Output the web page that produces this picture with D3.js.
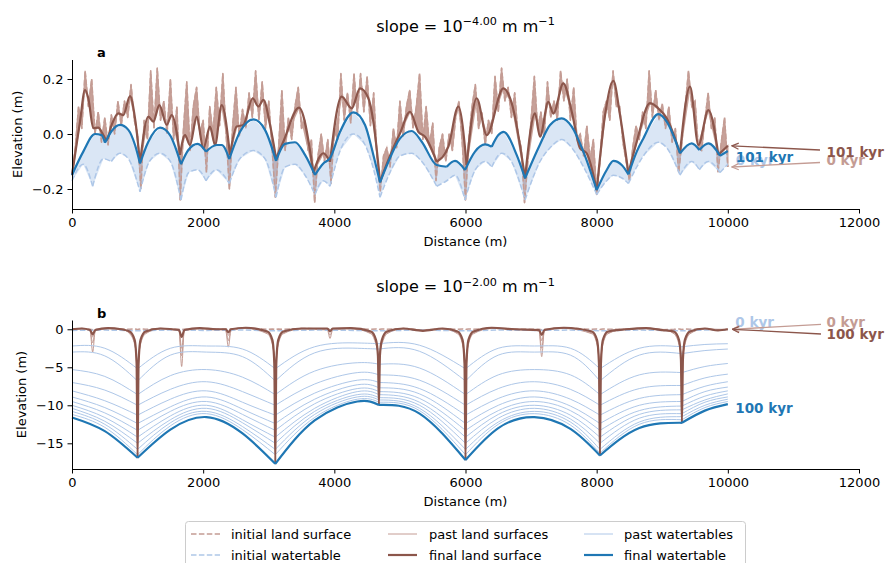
<!DOCTYPE html>
<html>
<head>
<meta charset="utf-8">
<script src="https://cdn.jsdelivr.net/npm/d3@7"></script>
<style>
  body { margin: 0; background: #fff; }
  svg text { font-family: "DejaVu Sans", sans-serif; }
</style>
</head>
<body>
<script>
// ------------------------------------------------------------------
// data
// ------------------------------------------------------------------
var xTickVals = [0, 2000, 4000, 6000, 8000, 10000, 12000];
var yTicksA = [-0.2, 0.0, 0.2];
var yTicksB = [-15, -10, -5, 0];
var slopeExp = ["\u22124.00", "\u22122.00"];
var panelNames = ["a", "b"];
var endLabelsA = ["101 kyr", "0 kyr"];
var endLabelsB = ["100 kyr", "0 kyr"];
var legendLabels = ["initial land surface", "initial watertable", "past land surfaces",
                    "final land surface", "past watertables", "final watertable"];

// panel a  (slope 1e-4)
var landA_x = [0, 122, 198, 249, 325, 401, 478, 529, 605, 706,
               783, 884, 961, 1037, 1164, 1240, 1332, 1444, 1520, 1647,
               1723, 1799, 1901, 2003, 2104, 2181, 2282, 2409, 2511, 2613,
               2755, 2841, 2918, 3020, 3111, 3222, 3461, 3680, 3832, 3934,
               4112, 4265, 4392, 4519, 4595, 4697, 4875, 5002, 5154, 5281,
               5383, 5561, 5739, 5891, 6018, 6171, 6323, 6577, 6705, 6908,
               7060, 7136, 7263, 7340, 7492, 7620, 7747, 7848, 8001, 8128,
               8255, 8356, 8484, 8611, 8814, 8966, 9068, 9271, 9424, 9551,
               9703, 9856, 10000];
var landA_final = [-0.149, 0.045, 0.160, 0.130, 0.021, 0.023, -0.004, -0.022, 0.033, 0.075,
                   0.069, 0.138, 0.057, -0.105, 0.063, 0.045, 0.105, 0.033, 0.069, -0.076,
                   -0.004, -0.040, 0.063, -0.052, 0.027, -0.040, 0.105, -0.076, 0.027, 0.033,
                   0.130, 0.100, 0.124, 0.033, -0.088, -0.028, 0.096, -0.140, -0.070, -0.101,
                   0.136, 0.093, 0.166, 0.130, 0.045, -0.173, -0.064, 0.003, 0.081, 0.008,
                   -0.010, -0.101, -0.046, 0.100, -0.113, 0.130, -0.004, 0.166, 0.112, -0.161,
                   0.075, -0.010, 0.117, 0.075, 0.184, 0.081, -0.052, -0.070, -0.204, 0.069,
                   0.193, 0.069, -0.143, -0.028, 0.112, 0.087, 0.057, -0.070, 0.172, -0.040,
                   0.087, -0.076, -0.043];
var landA_initStep = 50;   // metres between samples of the initial surface
var landA_init = [
  -0.15, -0.05, 0.10, 0.02, 0.23, 0.10, 0.20, 0.00, 0.08, -0.03,
  0.06, -0.04, 0.07, 0.00, 0.12, 0.03, 0.12, 0.06, 0.18, 0.05,
  0.00, -0.20, 0.05, -0.02, 0.23, 0.02, 0.24, 0.05, 0.12, 0.00,
  0.20, -0.02, 0.10, -0.24, 0.02, 0.19, -0.06, 0.10, 0.17, 0.00,
  0.05, -0.14, 0.10, 0.00, 0.17, 0.03, 0.22, 0.00, -0.20, 0.03,
  0.17, -0.01, 0.09, 0.02, 0.15, 0.06, 0.23, 0.05, 0.19, 0.02,
  0.12, -0.05, -0.23, -0.05, 0.16, -0.06, 0.06, -0.02, 0.10, 0.17,
  0.02, 0.05, -0.06, -0.02, -0.25, -0.08, 0.00, -0.10, -0.02, -0.18,
  0.02, -0.02, 0.22, 0.05, 0.15, 0.04, 0.22, 0.07, 0.22, 0.08,
  0.21, 0.03, 0.15, -0.08, -0.21, -0.08, -0.05, -0.12, 0.02, -0.05,
  0.12, -0.01, 0.10, 0.16, 0.02, 0.10, 0.22, -0.02, 0.10, -0.04,
  0.04, -0.17, -0.05, 0.00, -0.10, 0.00, -0.06, 0.06, 0.12, -0.03,
  -0.24, -0.02, 0.10, 0.18, 0.02, 0.08, -0.04, 0.05, 0.00, 0.21,
  0.08, 0.24, 0.12, 0.17, 0.06, 0.15, 0.00, -0.05, -0.25, -0.10,
  0.05, 0.21, 0.02, 0.08, -0.01, 0.19, 0.06, 0.12, 0.05, 0.23,
  0.12, 0.20, 0.05, 0.17, -0.02, 0.00, -0.08, 0.03, -0.09, -0.02,
  -0.22, -0.10, 0.08, 0.12, 0.05, 0.23, 0.10, 0.10, -0.03, -0.10,
  -0.17, -0.05, 0.03, -0.02, 0.08, 0.02, 0.23, 0.06, 0.16, 0.05,
  0.11, 0.02, 0.10, -0.03, 0.02, -0.14, -0.03, 0.10, 0.23, 0.10,
  0.12, -0.05, -0.06, 0.05, 0.15, 0.02, 0.06, -0.14, -0.03, 0.06,
  -0.12];
var waterA_x = [0, 172, 351, 452, 503, 605, 732, 859, 961, 1037,
                1164, 1342, 1494, 1662, 1774, 1916, 2043, 2206, 2282, 2399,
                2562, 2765, 2943, 3111, 3248, 3400, 3553, 3705, 3832, 3934,
                4087, 4290, 4468, 4595, 4697, 4824, 5002, 5180, 5333, 5561,
                5714, 5840, 5993, 6145, 6298, 6400, 6501, 6580, 6780, 6908,
                7136, 7289, 7467, 7620, 7797, 8001, 8153, 8255, 8382, 8484,
                8611, 8712, 8941, 9068, 9271, 9449, 9566, 9703, 9881, 10000];
var waterA_final = [-0.149, -0.064, 0.000, -0.004, -0.032, 0.011, 0.033, 0.015, -0.040, -0.107,
                    -0.028, 0.023, -0.004, -0.110, -0.058, -0.036, -0.064, -0.040, -0.040, -0.091,
                    0.008, 0.053, 0.015, -0.098, -0.036, -0.030, -0.076, -0.149, -0.107, -0.088,
                    0.008, 0.079, 0.033, -0.076, -0.176, -0.101, -0.016, 0.011, -0.028, -0.113,
                    -0.119, -0.098, -0.131, -0.064, -0.038, -0.046, -0.004, 0.008, -0.076, -0.161,
                    -0.038, 0.033, 0.057, 0.027, -0.064, -0.204, -0.131, -0.098, -0.113, -0.147,
                    -0.064, -0.016, 0.072, 0.045, -0.070, -0.034, -0.058, -0.034, -0.079, -0.062];
var waterA_initX = [0, 170, 315, 480, 600, 730, 860, 1037, 1180, 1340,
                    1500, 1662, 1780, 1916, 2043, 2200, 2399, 2560, 2765, 2943,
                    3111, 3250, 3400, 3553, 3705, 3830, 3934, 4090, 4290, 4470,
                    4600, 4697, 4830, 5000, 5180, 5333, 5561, 5714, 5840, 5993,
                    6150, 6300, 6400, 6550, 6700, 6908, 7136, 7290, 7467, 7620,
                    7800, 8001, 8153, 8255, 8384, 8484, 8611, 8712, 8941, 9068,
                    9271, 9449, 9566, 9703, 9881, 10000];
var waterA_init = [-0.17, -0.11, -0.19, -0.09, -0.10, -0.07, -0.09, -0.21, -0.10, -0.07,
                   -0.10, -0.24, -0.14, -0.13, -0.17, -0.13, -0.18, -0.09, -0.06, -0.09,
                   -0.23, -0.12, -0.11, -0.15, -0.22, -0.17, -0.19, -0.06, 0.00, -0.04,
                   -0.13, -0.23, -0.15, -0.08, -0.07, -0.10, -0.19, -0.17, -0.15, -0.24,
                   -0.13, -0.10, -0.12, -0.07, -0.10, -0.24, -0.10, -0.05, -0.02, -0.05,
                   -0.12, -0.22, -0.17, -0.15, -0.16, -0.18, -0.12, -0.08, -0.03, -0.05,
                   -0.15, -0.10, -0.13, -0.10, -0.14, -0.11];

// panel b  (slope 1e-2)
var waterB_x = [0, 500, 1000, 1500, 2050, 2600, 3100, 3700, 4350, 4680,
                5300, 6000, 6500, 7050, 7600, 8050, 8650, 9300, 9650, 10000];
var waterB_channels = [1000, 3100, 4680, 6000, 8050, 9300];
var waterB_final = [-11.6, -13.4, -16.9, -13.2, -11.55, -13.7, -17.7, -12.0, -9.5, -9.95,
                    -11.1, -17.2, -13.0, -11.55, -13.1, -16.6, -13.0, -12.3, -10.7, -9.85];
var waterB_init = [-0.15, -0.1, -0.2, -0.1, -0.15, -0.1, -0.2, -0.1, -0.15, -0.2,
                   -0.1, -0.2, -0.1, -0.15, -0.1, -0.2, -0.1, -0.2, -0.1, -0.15];
var waterB_past = [
  [-2.2, -2.5, -5.2, -2.5, -2.2, -2.6, -5.2, -2.3, -1.8, -1.9, -2.1, -5.2, -2.5, -2.2, -2.5, -5.2, -2.5, -2.3, -2.0, -1.9],
  [-3.0, -3.5, -6.8, -3.4, -3.0, -3.6, -6.8, -3.1, -2.5, -2.6, -2.9, -6.8, -3.4, -3.0, -3.4, -6.8, -3.4, -3.2, -2.8, -2.6],
  [-5.3, -6.2, -8.6, -6.1, -5.3, -6.3, -8.6, -5.5, -4.4, -4.6, -5.1, -8.6, -6.0, -5.3, -6.0, -8.6, -6.0, -5.7, -4.9, -4.5],
  [-7.0, -8.0, -10.0, -7.9, -6.9, -8.2, -10.0, -7.2, -5.7, -6.0, -6.7, -10.0, -7.8, -6.9, -7.9, -10.0, -7.8, -7.4, -6.4, -5.9],
  [-8.1, -9.4, -11.3, -9.2, -8.1, -9.6, -11.3, -8.4, -6.7, -7.0, -7.8, -11.3, -9.1, -8.1, -9.2, -11.3, -9.1, -8.6, -7.5, -6.9],
  [-8.9, -10.3, -12.4, -10.2, -8.9, -10.5, -12.4, -9.2, -7.3, -7.7, -8.5, -12.4, -10.0, -8.9, -10.1, -12.4, -10.0, -9.5, -8.2, -7.6],
  [-9.5, -11.0, -13.3, -10.8, -9.5, -11.2, -13.3, -9.8, -7.8, -8.2, -9.1, -13.3, -10.7, -9.5, -10.7, -13.3, -10.7, -10.1, -8.8, -8.1],
  [-10.0, -11.6, -14.2, -11.4, -10.0, -11.9, -14.2, -10.4, -8.2, -8.6, -9.6, -14.2, -11.2, -10.0, -11.3, -14.2, -11.2, -10.6, -9.3, -8.5],
  [-10.4, -12.1, -15.0, -11.9, -10.4, -12.3, -15.0, -10.8, -8.6, -9.0, -10.0, -15.0, -11.7, -10.4, -11.8, -15.0, -11.7, -11.1, -9.6, -8.9],
  [-10.8, -12.5, -15.8, -12.3, -10.8, -12.8, -15.8, -11.2, -8.9, -9.3, -10.4, -15.8, -12.2, -10.8, -12.2, -15.8, -12.2, -11.5, -10.0, -9.2],
  [-11.2, -12.9, -16.5, -12.7, -11.1, -13.2, -16.5, -11.6, -9.2, -9.6, -10.7, -16.5, -12.5, -11.1, -12.6, -16.3, -12.5, -11.9, -10.3, -9.5]
];
var landB_x = [0, 150, 275, 315, 355, 550, 750,
               880, 955, 985, 1000, 1015, 1045, 1120, 1350, 1632, 1672, 1712, 1950, 2200,
               2344, 2384, 2424, 2650, 2980, 3055, 3085, 3100, 3115, 3145, 3220, 3500,
               3894, 3934, 3974, 4250, 4560, 4635, 4665, 4680, 4695, 4725, 4800,
               5050, 5350, 5650, 5880, 5955, 5985, 6000, 6015, 6045, 6120, 6400, 6750,
               7122, 7162, 7202, 7500, 7930, 8005, 8035, 8050, 8065, 8095, 8170,
               8450, 8750, 9000, 9180, 9255, 9285, 9300, 9315, 9345, 9420, 9650, 9850, 10000];
var landB_final = [0.0, 0.1, -0.1, -0.66, -0.1, 0.15, 0.0,
                   -0.3, -1.4, -4.5, -16.9, -4.5, -1.4, -0.3, 0.1, -0.1, -1.0, -0.1, 0.15, 0.0,
                   0.0, -0.4, 0.0, 0.2, -0.3, -1.4, -4.5, -17.7, -4.5, -1.4, -0.3, 0.1,
                   0.1, -0.25, 0.1, 0.15, -0.3, -1.4, -3.5, -9.95, -3.5, -1.4, -0.3,
                   0.1, -0.2, 0.1, -0.3, -1.4, -4.5, -17.2, -4.5, -1.4, -0.3, 0.2, 0.0,
                   -0.1, -0.75, -0.1, 0.2, -0.3, -1.4, -4.5, -16.6, -4.5, -1.4, -0.3,
                   0.0, 0.15, -0.1, -0.3, -1.4, -4.0, -12.3, -4.0, -1.4, -0.3, 0.1, -0.15, 0.0];
var landB_init = [0.0, 0.1, 0.0, -0.05, 0.0, 0.1, 0.05,
                  0.0, 0.05, 0.0, -0.05, 0.0, 0.05, 0.0, 0.1, 0.0, -0.05, 0.0, 0.1, 0.0,
                  0.05, 0.0, 0.05, 0.15, 0.0, 0.05, 0.0, -0.05, 0.0, 0.05, 0.0, 0.1,
                  0.05, 0.0, 0.05, 0.1, 0.0, 0.05, 0.0, -0.05, 0.0, 0.05, 0.0,
                  0.1, -0.1, 0.05, 0.0, 0.05, 0.0, -0.05, 0.0, 0.05, 0.0, 0.15, 0.0,
                  0.0, -0.05, 0.0, 0.15, 0.0, 0.05, 0.0, -0.05, 0.0, 0.05, 0.0,
                  0.0, 0.1, -0.05, 0.0, 0.05, 0.0, -0.05, 0.0, 0.05, 0.0, 0.05, -0.1, 0.0];
var landB_past = [
  [0.05, 0.05, -0.2, -3.0, -0.2, 0.1, 0.05,
   -0.6, -2.0, -3.8, -6.0, -3.8, -2.0, -0.6, 0.05, -0.2, -3.5, -0.2, 0.1, 0.05,
   -0.2, -2.35, -0.2, 0.1, -0.6, -2.0, -3.8, -6.0, -3.8, -2.0, -0.6, 0.05,
   -0.1, -1.2, -0.1, 0.1, -0.6, -2.0, -3.0, -4.0, -3.0, -2.0, -0.6,
   0.05, -0.1, 0.05, -0.6, -2.0, -3.8, -6.0, -3.8, -2.0, -0.6, 0.1, 0.05,
   -0.2, -3.6, -0.2, 0.1, -0.6, -2.0, -3.8, -6.0, -3.8, -2.0, -0.6,
   0.05, 0.1, 0.0, -0.6, -2.0, -3.2, -4.5, -3.2, -2.0, -0.6, 0.05, 0.0, 0.0],
  [0.0, 0.1, -0.2, -1.8, -0.2, 0.1, 0.0,
   -0.5, -1.8, -4.5, -11.0, -4.5, -1.8, -0.5, 0.1, -0.2, -4.9, -0.2, 0.1, 0.0,
   -0.1, -1.5, -0.1, 0.15, -0.5, -1.8, -4.5, -11.5, -4.5, -1.8, -0.5, 0.1,
   0.0, -0.8, 0.0, 0.1, -0.5, -1.8, -3.5, -7.0, -3.5, -1.8, -0.5,
   0.1, -0.15, 0.1, -0.5, -1.8, -4.5, -11.0, -4.5, -1.8, -0.5, 0.15, 0.0,
   -0.2, -2.5, -0.2, 0.15, -0.5, -1.8, -4.5, -11.0, -4.5, -1.8, -0.5,
   0.0, 0.1, -0.05, -0.5, -1.8, -4.0, -8.5, -4.0, -1.8, -0.5, 0.1, -0.1, 0.0],
  [0.0, 0.1, -0.1, -1.0, -0.1, 0.15, 0.0,
   -0.4, -1.6, -4.5, -15.0, -4.5, -1.6, -0.4, 0.1, -0.1, -2.5, -0.1, 0.15, 0.0,
   0.0, -0.8, 0.0, 0.2, -0.4, -1.6, -4.5, -15.5, -4.5, -1.6, -0.4, 0.1,
   0.1, -0.4, 0.1, 0.15, -0.4, -1.6, -3.5, -9.0, -3.5, -1.6, -0.4,
   0.1, -0.2, 0.1, -0.4, -1.6, -4.5, -15.0, -4.5, -1.6, -0.4, 0.2, 0.0,
   -0.1, -1.5, -0.1, 0.2, -0.4, -1.6, -4.5, -14.5, -4.5, -1.6, -0.4,
   0.0, 0.15, -0.1, -0.4, -1.6, -4.0, -11.0, -4.0, -1.6, -0.4, 0.1, -0.15, 0.0]
];

// ------------------------------------------------------------------
var LAND = "#8c564b", LAND_L = "#c49c94", WATER = "#1f77b4", WATER_L = "#aec7e8";
var DASH = "5.5,2.4";

var W = 887, H = 563;
var svg = d3.select("body").append("svg").attr("width", W).attr("height", H);

var x = d3.scaleLinear().domain([0, 12000]).range([72, 859]);
var yA = d3.scaleLinear().domain([-0.2727, 0.2709]).range([209, 59.5]);
var yB = d3.scaleLinear().domain([-18.38, 1.22]).range([469, 320]);

function pts(xs, ys) { return xs.map(function (d, i) { return [d, ys[i]]; }); }

function lineFor(y, curve) {
    return d3.line()
        .x(function (d) { return x(d[0]); })
        .y(function (d) { return y(d[1]); })
        .curve(curve);
}

// channels are sharp: cut the line at each local low point (below a level)
function splitAtMinima(p, below) {
    var segs = [], cur = [p[0]];
    for (var i = 1; i < p.length; i++) {
        cur.push(p[i]);
        if (i < p.length - 1 && p[i][1] < p[i - 1][1] && p[i][1] < p[i + 1][1] && p[i][1] < below) {
            segs.push(cur); cur = [p[i]];
        }
    }
    segs.push(cur);
    return segs;
}
function splitAtX(p, cuts) {
    var segs = [], cur = [p[0]];
    for (var i = 1; i < p.length; i++) {
        cur.push(p[i]);
        if (i < p.length - 1 && cuts.indexOf(p[i][0]) >= 0) { segs.push(cur); cur = [p[i]]; }
    }
    segs.push(cur);
    return segs;
}

function drawSegs(g, segs, gen, color, width, dash) {
    segs.forEach(function (s) {
        g.append("path")
            .attr("d", gen(s))
            .attr("fill", "none")
            .attr("stroke", color)
            .attr("stroke-width", width)
            .attr("stroke-dasharray", dash || null)
            .attr("stroke-linejoin", "round");
    });
}

function axes(y, ticks, fmt, yTop, yBottom, labelX) {
    var gx = svg.append("g")
        .attr("transform", "translate(0," + yBottom + ")")
        .call(d3.axisBottom(x).tickValues(xTickVals).tickFormat(d3.format("d"))
            .tickSize(4.5).tickPadding(4).tickSizeOuter(0));
    var gy = svg.append("g")
        .attr("transform", "translate(72,0)")
        .call(d3.axisLeft(y).tickValues(ticks).tickFormat(fmt)
            .tickSize(4.5).tickPadding(4).tickSizeOuter(0));
    [gx, gy].forEach(function (g) {
        g.attr("font-size", 13).attr("font-family", "DejaVu Sans");
        g.selectAll("path, line").attr("stroke", "#000").attr("stroke-width", 1);
    });
    svg.append("text")
        .attr("x", 465.5).attr("y", yBottom + 37)
        .attr("text-anchor", "middle").attr("font-size", 13)
        .text("Distance (m)");
    svg.append("text")
        .attr("transform", "translate(" + labelX + "," + ((yTop + yBottom) / 2) + ") rotate(-90)")
        .attr("text-anchor", "middle").attr("font-size", 13)
        .text("Elevation (m)");
}

function title(yBase, exp) {
    var t = svg.append("text")
        .attr("x", 465.5).attr("y", yBase)
        .attr("text-anchor", "middle").attr("font-size", 16);
    t.append("tspan").text("slope = 10");
    t.append("tspan").attr("dy", -6.5).attr("font-size", 11.2).text(exp);
    t.append("tspan").attr("dy", 6.5).attr("font-size", 16).text(" m m");
    t.append("tspan").attr("dy", -6.5).attr("font-size", 11.2).text("\u22121");
}

function panelLetter(yBase, s) {
    svg.append("text").attr("x", 97).attr("y", yBase)
        .attr("font-size", 13).attr("font-weight", "bold").text(s);
}

// arrow heads
var defs = svg.append("defs");
[LAND, LAND_L].forEach(function (c, i) {
    defs.append("marker")
        .attr("id", "ah" + i)
        .attr("viewBox", "0 0 10 10")
        .attr("refX", 9.5).attr("refY", 5)
        .attr("markerWidth", 8).attr("markerHeight", 8)
        .attr("markerUnits", "userSpaceOnUse")
        .attr("orient", "auto")
        .append("path")
        .attr("d", "M1,1.2 L9.5,5 L1,8.8")
        .attr("fill", "none").attr("stroke", c).attr("stroke-width", 1.5);
});

function arrow(x1, y1, x2, y2, idx, color) {
    svg.append("line")
        .attr("x1", x1).attr("y1", y1).attr("x2", x2).attr("y2", y2)
        .attr("stroke", color).attr("stroke-width", 1.3)
        .attr("marker-end", "url(#ah" + idx + ")");
}
function label(s, xp, yp, color) {
    svg.append("text").attr("x", xp).attr("y", yp)
        .attr("fill", color).attr("font-size", 13.5).attr("font-weight", "bold")
        .text(s);
}

// ------------------------------------------------------------------
// panel a
// ------------------------------------------------------------------
var gA = svg.append("g");
var initLandA = landA_init.map(function (v, i) { return [i * landA_initStep, v]; });
var finalLandA = pts(landA_x, landA_final);
var initWaterA = pts(waterA_initX, waterA_init);
var finalWaterA = pts(waterA_x, waterA_final);
var linA = lineFor(yA, d3.curveLinear);
var monA = lineFor(yA, d3.curveMonotoneX);

// envelope of the past land surfaces and past watertables
gA.append("path")
    .attr("d", linA(initLandA.concat(finalLandA.slice().reverse())) + "Z")
    .attr("fill", LAND_L).attr("fill-opacity", 0.95).attr("stroke", LAND_L)
    .attr("stroke-width", 1.4).attr("stroke-opacity", 0.9);
gA.append("path")
    .attr("d", linA(initWaterA.concat(finalWaterA.slice().reverse())) + "Z")
    .attr("fill", WATER_L).attr("fill-opacity", 0.45).attr("stroke", "none");

drawSegs(gA, [initLandA], linA, LAND_L, 1.5, DASH);
drawSegs(gA, splitAtMinima(initWaterA, 0), monA, WATER_L, 1.5, DASH);
drawSegs(gA, splitAtMinima(finalLandA, -0.06), monA, LAND, 2.2);
drawSegs(gA, splitAtMinima(finalWaterA, 0), monA, WATER, 2.2);

axes(yA, yTicksA, d3.format(".1f"), 59.5, 209, 21.5);
title(31.5, slopeExp[0]);
panelLetter(56.5, panelNames[0]);

var xe = x(10000);
var yLandEndA = yA(landA_final[landA_final.length - 1]);
var yInitEndA = yA(landA_init[landA_init.length - 1]);
var yWatEndA = yA(waterA_final[waterA_final.length - 1]);
var yWatInitEndA = yA(waterA_init[waterA_init.length - 1]);
label(endLabelsA[1], xe + 8, yWatInitEndA + 1, WATER_L);
label(endLabelsA[0], xe + 8, yWatEndA + 10.5, WATER);
arrow(820, 150, xe + 4, yLandEndA, 0, LAND);
arrow(820, 162.5, xe + 4, yInitEndA, 1, LAND_L);
label(endLabelsA[1], 826.5, 165, LAND_L);
label(endLabelsA[0], 826.5, 156.7, LAND);

// ------------------------------------------------------------------
// panel b
// ------------------------------------------------------------------
var gB = svg.append("g");
var linB = lineFor(yB, d3.curveLinear);
var monB = lineFor(yB, d3.curveMonotoneX);
var natB = lineFor(yB, d3.curveNatural);

landB_past.forEach(function (arr) {
    drawSegs(gB, [pts(landB_x, arr)], monB, LAND_L, 1.0);
});
waterB_past.forEach(function (arr) {
    drawSegs(gB, splitAtX(pts(waterB_x, arr), waterB_channels), natB, WATER_L, 1.0);
});
drawSegs(gB, [pts(landB_x, landB_init)], linB, LAND_L, 1.5, DASH);
drawSegs(gB, [pts(waterB_x, waterB_init)], linB, WATER_L, 1.5, DASH);
drawSegs(gB, [pts(landB_x, landB_final)], monB, LAND, 2.2);
drawSegs(gB, splitAtX(pts(waterB_x, waterB_final), waterB_channels), natB, WATER, 2.2);

axes(yB, yTicksB, d3.format("d"), 320, 469, 25.5);
title(292, slopeExp[1]);
panelLetter(318, panelNames[1]);

var yLandEndB = yB(landB_final[landB_final.length - 1]);
var yWatEndB = yB(waterB_final[waterB_final.length - 1]);
label(endLabelsB[1], xe + 7.5, yLandEndB - 2.6, WATER_L);
label(endLabelsB[0], xe + 7.5, yWatEndB + 9, WATER);
arrow(821, 324.3, xe + 4.5, yLandEndB, 1, LAND_L);
arrow(821, 334, xe + 4.5, yLandEndB, 0, LAND);
label(endLabelsB[1], 826.5, 326.7, LAND_L);
label(endLabelsB[0], 826.5, 339.3, LAND);

// ------------------------------------------------------------------
// legend (3 columns, filled column by column)
// ------------------------------------------------------------------
var lg = svg.append("g");
lg.append("rect")
    .attr("x", 185.5).attr("y", 521.5).attr("width", 560).attr("height", 52)
    .attr("rx", 3).attr("fill", "#fff").attr("fill-opacity", 0.8)
    .attr("stroke", "#cccccc").attr("stroke-width", 1);
var legStyle = [
    [LAND_L, 1.5, DASH], [WATER_L, 1.5, DASH],
    [LAND_L, 1.0, null], [LAND, 2.2, null],
    [WATER_L, 1.0, null], [WATER, 2.2, null]
];
var colHandle = [191, 388, 584], colText = [231, 429, 624], rowY = [534, 555];
legendLabels.forEach(function (s, i) {
    var c = Math.floor(i / 2), r = i % 2, st = legStyle[i];
    lg.append("line")
        .attr("x1", colHandle[c]).attr("x2", colHandle[c] + 29)
        .attr("y1", rowY[r]).attr("y2", rowY[r])
        .attr("stroke", st[0]).attr("stroke-width", st[1])
        .attr("stroke-dasharray", st[2]);
    lg.append("text")
        .attr("x", colText[c]).attr("y", rowY[r] + 4.6)
        .attr("font-size", 13).text(s);
});
</script>
</body>
</html>
